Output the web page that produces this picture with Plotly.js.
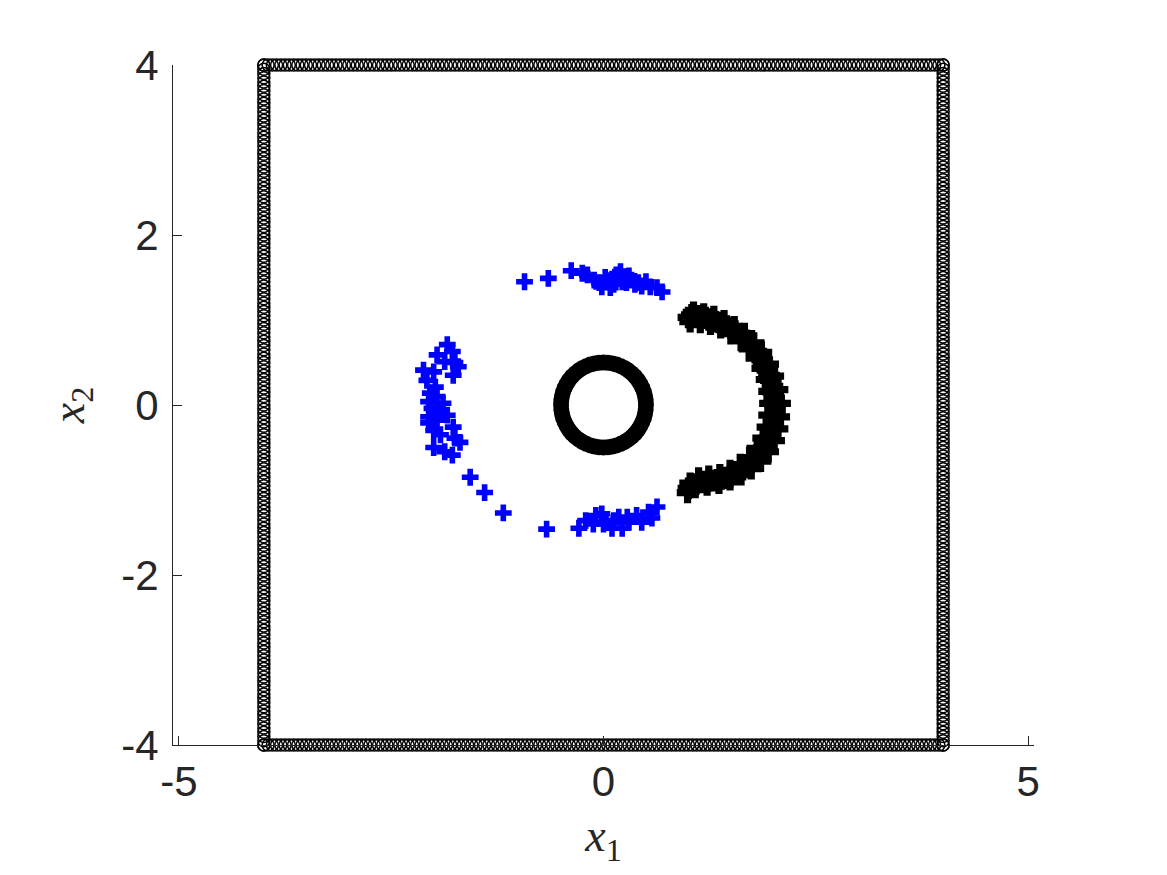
<!DOCTYPE html>
<html>
<head>
<meta charset="utf-8">
<script src="https://cdn.plot.ly/plotly-3.0.1.min.js"></script>
<style>
  html, body { margin: 0; padding: 0; background: #fff; }
  #plot { width: 1167px; height: 875px; }
</style>
</head>
<body>
<div id="plot"></div>
<script>
// positions along each side of the outer square (open circles)
var sideVals = [-4,-3.95,-3.9,-3.85,-3.8,-3.75,-3.7,-3.65,-3.6,-3.55,
  -3.5,-3.45,-3.4,-3.35,-3.3,-3.25,-3.2,-3.15,-3.1,-3.05,
  -3,-2.95,-2.9,-2.85,-2.8,-2.75,-2.7,-2.65,-2.6,-2.55,
  -2.5,-2.45,-2.4,-2.35,-2.3,-2.25,-2.2,-2.15,-2.1,-2.05,
  -2,-1.95,-1.9,-1.85,-1.8,-1.75,-1.7,-1.65,-1.6,-1.55,
  -1.5,-1.45,-1.4,-1.35,-1.3,-1.25,-1.2,-1.15,-1.1,-1.05,
  -1,-0.95,-0.9,-0.85,-0.8,-0.75,-0.7,-0.65,-0.6,-0.55,
  -0.5,-0.45,-0.4,-0.35,-0.3,-0.25,-0.2,-0.15,-0.1,-0.05,
  0,0.05,0.1,0.15,0.2,0.25,0.3,0.35,0.4,0.45,
  0.5,0.55,0.6,0.65,0.7,0.75,0.8,0.85,0.9,0.95,
  1,1.05,1.1,1.15,1.2,1.25,1.3,1.35,1.4,1.45,
  1.5,1.55,1.6,1.65,1.7,1.75,1.8,1.85,1.9,1.95,
  2,2.05,2.1,2.15,2.2,2.25,2.3,2.35,2.4,2.45,
  2.5,2.55,2.6,2.65,2.7,2.75,2.8,2.85,2.9,2.95,
  3,3.05,3.1,3.15,3.2,3.25,3.3,3.35,3.4,3.45,
  3.5,3.55,3.6,3.65,3.7,3.75,3.8,3.85,3.9,3.95,4];
var boxSides = [-4, 4];

// inner circle (radius 0.5) of open circles
var ringX = [0.5,0.497,0.489,0.476,0.457,0.433,0.405,0.372,0.335,0.294,0.25,0.203,0.155,0.104,0.052,
  0,-0.052,-0.104,-0.155,-0.203,-0.25,-0.294,-0.335,-0.372,-0.405,-0.433,-0.457,-0.476,-0.489,-0.497,
  -0.5,-0.497,-0.489,-0.476,-0.457,-0.433,-0.405,-0.372,-0.335,-0.294,-0.25,-0.203,-0.155,-0.104,-0.052,
  0,0.052,0.104,0.155,0.203,0.25,0.294,0.335,0.372,0.405,0.433,0.457,0.476,0.489,0.497];
var ringY = [0,0.052,0.104,0.155,0.203,0.25,0.294,0.335,0.372,0.405,0.433,0.457,0.476,0.489,0.497,
  0.5,0.497,0.489,0.476,0.457,0.433,0.405,0.372,0.335,0.294,0.25,0.203,0.155,0.104,0.052,
  0,-0.052,-0.104,-0.155,-0.203,-0.25,-0.294,-0.335,-0.372,-0.405,-0.433,-0.457,-0.476,-0.489,-0.497,
  -0.5,-0.497,-0.489,-0.476,-0.457,-0.433,-0.405,-0.372,-0.335,-0.294,-0.25,-0.203,-0.155,-0.104,-0.052];

// black arc on the right
var arcX = [1.00,1.04,1.08,1.12,1.16,1.20,1.24,1.28,1.32,1.36,1.40,1.45,1.50,1.55,1.59,1.64,1.68,1.72,1.76,1.80,
  1.84,1.87,1.90,1.93,1.95,1.97,1.99,2.00,2.01,2.02,2.02,2.01,2.00,1.99,1.97,1.95,1.92,1.89,1.86,1.82,
  1.78,1.74,1.69,1.64,1.59,1.54,1.49,1.44,1.39,1.34,1.29,1.24,1.19,1.14,1.09,1.04,1.00,
  1.06,1.18,1.30,1.42,1.54,1.66,1.77,1.86,1.94,2.00,2.05,2.08,2.07,2.05,2.01,1.94,1.85,1.74,1.62,1.49,1.36,1.22,1.08,0.99,
  1.02,1.14,1.26,1.38,1.50,1.62,1.72,1.80,1.87,1.92,1.95,1.96,1.95,1.93,1.88,1.81,1.72,1.61,1.49,1.37,1.24,1.12,1.02];
var arcY = [1.03,1.06,1.03,1.05,1.02,1.03,1.00,1.01,0.98,0.97,0.95,0.93,0.90,0.87,0.84,0.80,0.76,0.72,0.68,0.63,
  0.58,0.53,0.47,0.41,0.35,0.29,0.22,0.15,0.08,0.01,-0.06,-0.13,-0.20,-0.27,-0.33,-0.39,-0.45,-0.50,-0.55,-0.60,
  -0.64,-0.68,-0.72,-0.76,-0.79,-0.82,-0.84,-0.86,-0.87,-0.88,-0.89,-0.89,-0.90,-0.91,-0.93,-0.95,-0.98,
  1.09,1.07,1.04,0.99,0.92,0.84,0.73,0.62,0.48,0.34,0.18,0.02,-0.14,-0.28,-0.42,-0.55,-0.66,-0.75,-0.82,-0.88,-0.92,-0.94,-0.97,-1.03,
  0.98,0.97,0.95,0.91,0.84,0.76,0.66,0.55,0.43,0.30,0.16,0.02,-0.12,-0.26,-0.39,-0.51,-0.62,-0.70,-0.77,-0.82,-0.84,-0.86,-0.92];

// blue crosses
var blueX = [-0.93,-0.65,-0.38,-0.25,-0.19,-0.11,-0.05,-0.02,0.02,0.06,0.10,0.12,0.15,0.20,0.22,0.26,0.30,0.33,0.37,0.41,0.45,0.50,0.55,0.63,0.69,0.08,0.27,
  -1.57,-1.40,-1.18,-0.67,-0.29,-0.21,-0.12,-0.09,-0.02,0.00,0.03,0.10,0.12,0.18,0.22,0.28,0.30,0.39,0.45,0.53,0.57,0.63,
  -1.84,-1.78,-1.96,-1.87,-1.75,-1.71,-2.12,-2.00,-1.77,-2.08,-1.98,-2.04,-1.96,-2.06,-1.89,-2.02,-1.92,-2.06,-1.96,-1.84,-2.06,-2.00,-1.92,-1.77,-1.75,-1.69,-2.00,-1.87,-1.78];
var blueY = [1.45,1.49,1.58,1.55,1.53,1.47,1.44,1.39,1.50,1.45,1.48,1.42,1.53,1.57,1.45,1.51,1.52,1.47,1.42,1.44,1.40,1.45,1.39,1.38,1.33,1.38,1.44,
  -0.85,-1.03,-1.27,-1.46,-1.45,-1.36,-1.40,-1.30,-1.28,-1.40,-1.38,-1.45,-1.36,-1.32,-1.45,-1.32,-1.38,-1.30,-1.38,-1.26,-1.33,-1.20,
  0.71,0.63,0.59,0.51,0.50,0.45,0.41,0.39,0.35,0.29,0.21,0.14,0.10,0.04,0.02,-0.04,-0.08,-0.14,-0.18,-0.12,-0.21,-0.30,-0.35,-0.26,-0.39,-0.44,-0.50,-0.55,-0.59];

var boxX = [], boxY = [];
sideVals.forEach(function (v) {
  boxSides.forEach(function (s) {
    boxX.push(v); boxY.push(s);
    boxX.push(s); boxY.push(v);
  });
});

var traceBox = {
  x: boxX, y: boxY, type: 'scatter', mode: 'markers', cliponaxis: false,
  marker: { symbol: 'circle-open', size: 12, color: '#000', line: { width: 1.5, color: '#000' } },
  hoverinfo: 'skip'
};
var traceRing = {
  x: ringX, y: ringY, type: 'scatter', mode: 'markers',
  marker: { symbol: 'circle-open', size: 12, color: '#000', line: { width: 4, color: '#000' } }
};
var traceArc = {
  x: arcX, y: arcY, type: 'scatter', mode: 'markers',
  marker: { symbol: 'cross', size: 18, color: '#000', line: { width: 0 } }
};
var traceBlue = {
  x: blueX, y: blueY, type: 'scatter', mode: 'markers',
  marker: { symbol: 'cross', size: 14, color: '#0000ff', line: { width: 0 } }
};

var tickFont = { family: 'Liberation Sans, Arial, sans-serif', size: 42, color: '#262626' };
var titleFont = { family: 'Liberation Serif, serif', size: 46, color: '#262626' };

var layout = {
  width: 1167, height: 875,
  showlegend: false,
  paper_bgcolor: '#fff', plot_bgcolor: '#fff',
  margin: { l: 173, r: 133, t: 65, b: 130 },
  xaxis: {
    range: [-5.07, 5.07],
    tickvals: [-5, 0, 5], ticktext: ['-5', '0', '5'],
    ticks: 'inside', ticklen: 9, tickwidth: 1, tickcolor: '#262626',
    showline: true, linecolor: '#262626', linewidth: 1,
    showgrid: false, zeroline: false,
    tickfont: tickFont,
    title: { text: '<i>x</i><sub>1</sub>', font: titleFont, standoff: 14 }
  },
  yaxis: {
    range: [-4, 4],
    tickvals: [-4, -2, 0, 2, 4], ticktext: ['-4', '-2', '0', '2', '4'],
    ticks: 'inside', ticklen: 9, tickwidth: 1, tickcolor: '#262626',
    showline: true, linecolor: '#262626', linewidth: 1,
    showgrid: false, zeroline: false,
    tickfont: tickFont, ticklabelstandoff: 5,
    title: { text: '<i>x</i><sub>2</sub>', font: titleFont, standoff: 22 }
  }
};

Plotly.newPlot('plot', [traceBox, traceRing, traceArc, traceBlue], layout, { displayModeBar: false });
</script>
</body>
</html>
